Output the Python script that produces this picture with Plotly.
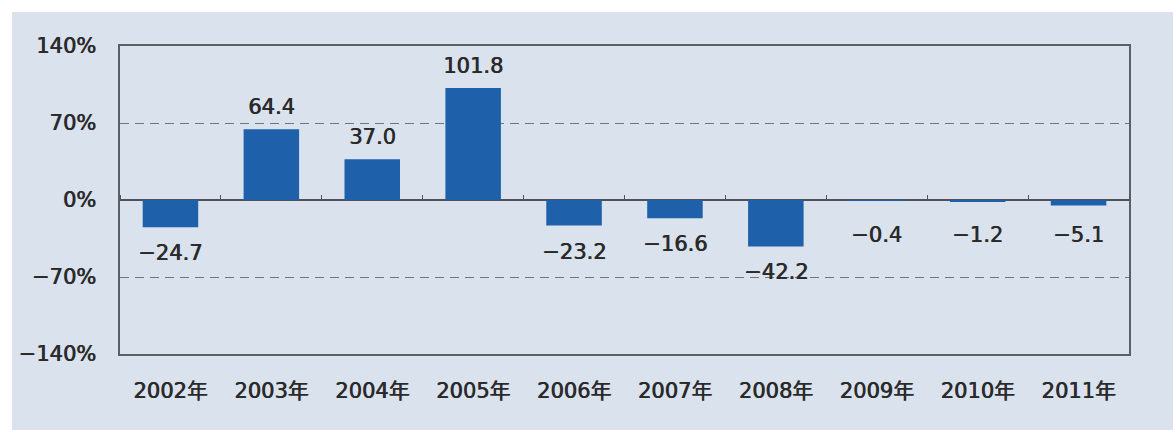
import plotly.graph_objects as go

years = ["2002年", "2003年", "2004年", "2005年", "2006年", "2007年", "2008年", "2009年", "2010年", "2011年"]
values = [-24.7, 64.4, 37.0, 101.8, -23.2, -16.6, -42.2, -0.4, -1.2, -5.1]
ytick_vals = [-140, -70, 0, 70, 140]
ytick_text = ["−140%", "−70%", "0%", "70%", "140%"]

FONT = "DejaVu Sans, Noto Sans CJK JP"
BG = "#dae2ee"
BAR = "#1f60aa"
TXT = "#2a2a2a"
FS = 21
SH = "0.7px 0px 0px #2a2a2a"

def fnt():
    return dict(family=FONT, size=FS, color=TXT, shadow=SH)

def fmt(v):
    s = f"{abs(v):.1f}"
    return ("−" + s) if v < 0 else s

fig = go.Figure()
fig.add_trace(go.Bar(x=years, y=values, marker=dict(color=BAR, line=dict(width=0)),
                     hoverinfo="skip", showlegend=False))
# overlay axis carrying the tick marks on the zero line
fig.add_trace(go.Scatter(x=years, y=values, xaxis="x2", mode="markers",
                         marker=dict(opacity=0), hoverinfo="skip", showlegend=False))

for x, v in zip(years, values):
    if v >= 0:
        fig.add_annotation(x=x, y=v, text=fmt(v), showarrow=False, yanchor="middle",
                           yshift=22, font=fnt())
    else:
        fig.add_annotation(x=x, y=min(v, -8), text=fmt(v), showarrow=False, yanchor="middle",
                           yshift=-26, font=fnt())

# light panel background
fig.add_shape(type="rect", xref="paper", yref="paper",
              x0=(12 - 120) / 1009, x1=(1173 - 120) / 1009,
              y0=(354 - 430) / 308, y1=(354 - 12) / 308,
              fillcolor=BG, line=dict(width=0), layer="below")

fig.update_layout(
    width=1173, height=430,
    margin=dict(l=120, r=44, t=46, b=76),
    paper_bgcolor="white",
    plot_bgcolor="rgba(0,0,0,0)",
    bargap=0.45,
    font=dict(family=FONT, size=FS, color=TXT),
    xaxis=dict(type="category", range=[-0.5, 9.5], showline=True, linecolor="#5a5f66",
               linewidth=1.5, mirror=True, ticks="", showgrid=False, zeroline=False,
               tickfont=fnt(), ticklabelstandoff=17),
    xaxis2=dict(type="category", range=[-0.5, 9.5], overlaying="x", anchor="free",
                position=0.5, side="top", showline=False, ticks="outside",
                tickson="boundaries", ticklen=5, tickcolor="#555555", tickwidth=1,
                showticklabels=False, showgrid=False, zeroline=False),
    yaxis=dict(range=[-140, 140], tickvals=ytick_vals, ticktext=ytick_text,
               showline=True, linecolor="#5a5f66", linewidth=1.5, mirror=True,
               showgrid=True, gridcolor="#6f7580", gridwidth=1, griddash="9px,6px",
               zeroline=True, zerolinecolor="#4d5259", zerolinewidth=1.5,
               tickfont=fnt(), ticklabelstandoff=18),
)

fig.write_html("out.html")
